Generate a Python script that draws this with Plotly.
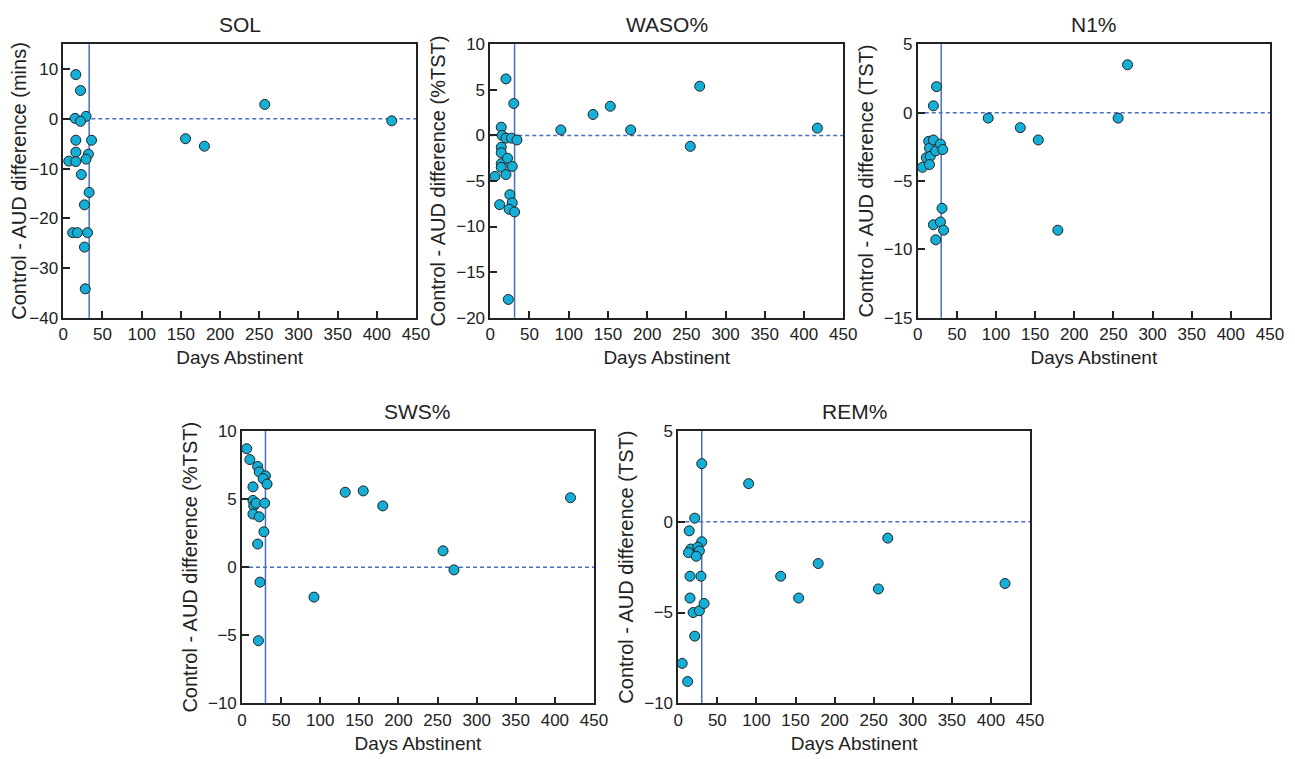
import plotly.graph_objects as go

# Days abstinent (x) and control - AUD difference (y)
sol_days = [16, 22, 15, 29, 22, 16, 36, 16, 32, 7, 16, 29, 23, 33, 27, 12, 18, 31, 27, 28, 156, 180, 257, 419]
sol_diff = [8.9, 5.7, 0.1, 0.5, -0.5, -4.3, -4.3, -6.7, -7.1, -8.5, -8.6, -8.1, -11.2, -14.8, -17.3, -22.9, -22.9, -22.9, -25.8, -34.2, -4.0, -5.5, 2.9, -0.4]

waso_days = [20, 30, 14, 15, 20, 27, 34, 14, 14, 14, 14, 22, 28, 20, 6, 25, 12, 28, 24, 31, 23, 90, 131, 153, 179, 255, 267, 417]
waso_diff = [6.2, 3.5, 0.9, 0.0, -0.3, -0.3, -0.5, -1.3, -1.9, -3.1, -3.5, -2.5, -3.4, -4.3, -4.5, -6.5, -7.6, -7.4, -8.1, -8.4, -18.0, 0.6, 2.3, 3.2, 0.6, -1.2, 5.4, 0.8]

n1_days = [24, 20, 6, 11, 14, 15, 16, 15, 20, 23, 29, 32, 31, 20, 29, 33, 23, 90, 131, 154, 179, 256, 268]
n1_diff = [1.9, 0.5, -4.0, -3.3, -2.1, -2.6, -3.2, -3.8, -2.0, -2.8, -2.3, -2.7, -7.0, -8.2, -8.0, -8.6, -9.3, -0.4, -1.1, -2.0, -8.6, -0.4, 3.5]

sws_days = [6, 10, 20, 22, 30, 27, 32, 14, 14, 15, 18, 29, 14, 22, 28, 20, 23, 21, 92, 132, 155, 180, 257, 271, 420]
sws_diff = [8.7, 7.9, 7.4, 7.0, 6.7, 6.5, 6.1, 5.9, 4.9, 4.5, 4.7, 4.7, 3.9, 3.7, 2.6, 1.7, -1.1, -5.4, -2.2, 5.5, 5.6, 4.5, 1.2, -0.2, 5.1]

rem_days = [30, 90, 21, 14, 30, 16, 25, 27, 13, 23, 15, 29, 15, 19, 27, 33, 21, 5, 12, 131, 154, 179, 256, 268, 418]
rem_diff = [3.2, 2.1, 0.2, -0.5, -1.1, -1.5, -1.4, -1.6, -1.7, -1.9, -3.0, -3.0, -4.2, -5.0, -4.9, -4.5, -6.3, -7.8, -8.8, -3.0, -4.2, -2.3, -3.7, -0.9, -3.4]

# panel name, y title, days, diffs, y range, cutoff day, x domain, y domain
# (domains allow for the 8px page margin the browser adds around the plot div)
panels = [
    ('SOL', 'Control - AUD difference (mins)', sol_days, sol_diff, [-40, 15], 33,
     [0.0427, 0.3151], [0.5920, 0.9522]),
    ('WASO%', 'Control - AUD difference (%TST)', waso_days, waso_diff, [-20, 10], 31,
     [0.3724, 0.6450], [0.5920, 0.9522]),
    ('N1%', 'Control - AUD difference (TST)', n1_days, n1_diff, [-15, 5], 30,
     [0.7025, 0.9745], [0.5920, 0.9522]),
    ('SWS%', 'Control - AUD difference (%TST)', sws_days, sws_diff, [-10, 10], 30,
     [0.1807, 0.4525], [0.0839, 0.4427]),
    ('REM%', 'Control - AUD difference (TST)', rem_days, rem_diff, [-10, 5], 30,
     [0.5176, 0.7892], [0.0839, 0.4427]),
]

DOT = 'rgb(20,175,215)'
LINE = 'rgb(70,110,195)'
INK = '#222222'
FONT = 'Liberation Sans, Arial, sans-serif'

fig = go.Figure()
shapes = []
annotations = []

for i, (name, ytitle, days, diff, yr, cut, xd, yd) in enumerate(panels):
    n = '' if i == 0 else str(i + 1)
    xa, ya = 'x' + n, 'y' + n

    fig.add_trace(go.Scatter(
        x=days, y=diff, mode='markers', xaxis=xa, yaxis=ya,
        marker=dict(size=10, color=DOT, line=dict(color=INK, width=1)),
        cliponaxis=False, showlegend=False))

    axis_common = dict(showline=True, linecolor=INK, linewidth=1.6, mirror=True,
                       ticks='inside', ticklen=7, tickwidth=1.5, tickcolor=INK,
                       showgrid=False, zeroline=False, automargin=False,
                       tickfont=dict(size=17, color=INK, family=FONT))
    fig.update_layout(**{
        'xaxis' + n: dict(domain=xd, range=[0, 450], dtick=50, anchor=ya,
                          title=dict(text='Days Abstinent', font=dict(size=19, color=INK, family=FONT),
                                     standoff=8),
                          **axis_common),
        'yaxis' + n: dict(domain=yd, range=yr, dtick=5 if name != 'SOL' else 10, anchor=xa,
                          title=dict(text=ytitle, font=dict(size=20, color=INK, family=FONT),
                                     standoff=5),
                          **axis_common),
    })

    # cutoff line and zero reference
    shapes.append(dict(type='line', xref=xa, yref=ya + ' domain', x0=cut, x1=cut, y0=0, y1=1,
                       line=dict(color=LINE, width=1.5), layer='below'))
    shapes.append(dict(type='line', xref=xa + ' domain', yref=ya, x0=0, x1=1, y0=0, y1=0,
                       line=dict(color=LINE, width=1.5, dash='4px,3px'), layer='below'))

    annotations.append(dict(text=name, xref='paper', yref='paper', x=(xd[0] + xd[1]) / 2,
                            y=yd[1] + 0.008, xanchor='center', yanchor='bottom', showarrow=False,
                            font=dict(size=21, color=INK, family=FONT)))

fig.update_layout(
    width=1295, height=759,
    margin=dict(l=0, r=0, t=0, b=0),
    paper_bgcolor='white', plot_bgcolor='white',
    shapes=shapes, annotations=annotations,
    font=dict(family=FONT, color=INK),
)

fig.write_html('out.html')
